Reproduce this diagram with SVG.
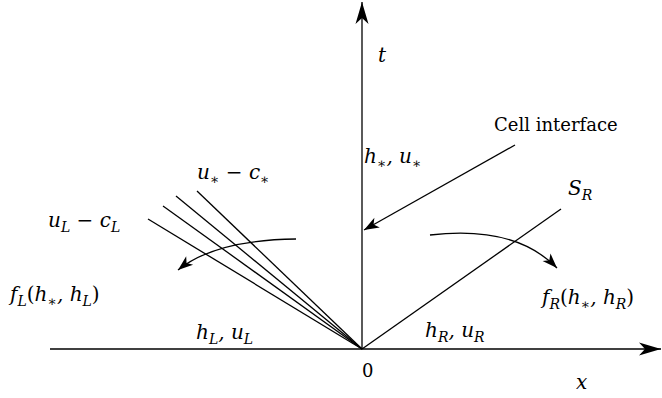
<svg xmlns="http://www.w3.org/2000/svg" width="662" height="398" viewBox="0 0 662 398">
<style>
.ln{stroke:#000;stroke-width:1.3;fill:none}
.m{font-family:"DejaVu Serif",serif;font-style:italic;font-size:20px;fill:#000}
.r{font-family:"DejaVu Serif",serif;font-size:18px;fill:#000}
.s{font-size:14px}
.n{font-style:normal}
</style>
<defs>
<marker id="big" markerUnits="userSpaceOnUse" markerWidth="30" markerHeight="20" viewBox="-24 -10 26 20" refX="0" refY="0" orient="auto">
<path d="M0,0 L-22,-6.5 L-16,0 L-22,6.5 Z" fill="#000"/>
</marker>
<marker id="sm" markerUnits="userSpaceOnUse" markerWidth="20" markerHeight="16" viewBox="-16 -8 18 16" refX="0" refY="0" orient="auto">
<path d="M0,0 L-15,-5.5 L-11,0 L-15,5.5 Z" fill="#000"/>
</marker>
</defs>
<g id="connectors">
<line id="x-axis" class="ln" x1="50" y1="349" x2="661" y2="349" marker-end="url(#big)"/>
<line id="t-axis" class="ln" x1="362" y1="349" x2="362" y2="2" marker-end="url(#big)"/>
<line class="ln" x1="362" y1="349" x2="148" y2="219"/>
<line class="ln" x1="362" y1="349" x2="163" y2="206"/>
<line class="ln" x1="362" y1="349" x2="176" y2="196"/>
<line class="ln" x1="362" y1="349" x2="197" y2="191"/>
<line id="sr" class="ln" x1="362" y1="349" x2="561" y2="209"/>
<line id="cell-arrow" class="ln" x1="515" y1="145" x2="364" y2="230" marker-end="url(#sm)"/>
<path id="left-flux" class="ln" d="M296,239 Q215,240 178,270" marker-end="url(#sm)"/>
<path id="right-flux" class="ln" d="M430,235 Q515,225 557,268" marker-end="url(#sm)"/>
</g>
<g id="labels">
<text class="m" x="378" y="62">t</text>
<text class="m" x="364" y="163">h<tspan class="s" dy="5">∗</tspan><tspan dy="-5">, u</tspan><tspan class="s" dy="5">∗</tspan></text>
<text id="cell-interface" class="r" x="494" y="131">Cell interface</text>
<text class="m" x="197" y="179">u<tspan class="s" dy="5">∗</tspan><tspan class="n" dy="-5"> − </tspan>c<tspan class="s" dy="5">∗</tspan></text>
<text class="m" x="48" y="227">u<tspan class="s" dy="5">L</tspan><tspan class="n" dy="-5"> − </tspan>c<tspan class="s" dy="5">L</tspan></text>
<text class="m" x="568" y="195">S<tspan class="s" dy="5">R</tspan></text>
<text class="m" x="10" y="301">f<tspan class="s" dy="5">L</tspan><tspan class="n" dy="-5">(</tspan>h<tspan class="s" dy="5">∗</tspan><tspan dy="-5">, h</tspan><tspan class="s" dy="5">L</tspan><tspan class="n" dy="-5">)</tspan></text>
<text class="m" x="542" y="304">f<tspan class="s" dy="5">R</tspan><tspan class="n" dy="-5">(</tspan>h<tspan class="s" dy="5">∗</tspan><tspan dy="-5">, h</tspan><tspan class="s" dy="5">R</tspan><tspan class="n" dy="-5">)</tspan></text>
<text class="m" x="196" y="339">h<tspan class="s" dy="5">L</tspan><tspan dy="-5">, u</tspan><tspan class="s" dy="5">L</tspan></text>
<text class="m" x="425" y="337">h<tspan class="s" dy="5">R</tspan><tspan dy="-5">, u</tspan><tspan class="s" dy="5">R</tspan></text>
<text class="r" x="362" y="377" font-size="19">0</text>
<text class="m" x="576" y="389">x</text>
</g>
</svg>
